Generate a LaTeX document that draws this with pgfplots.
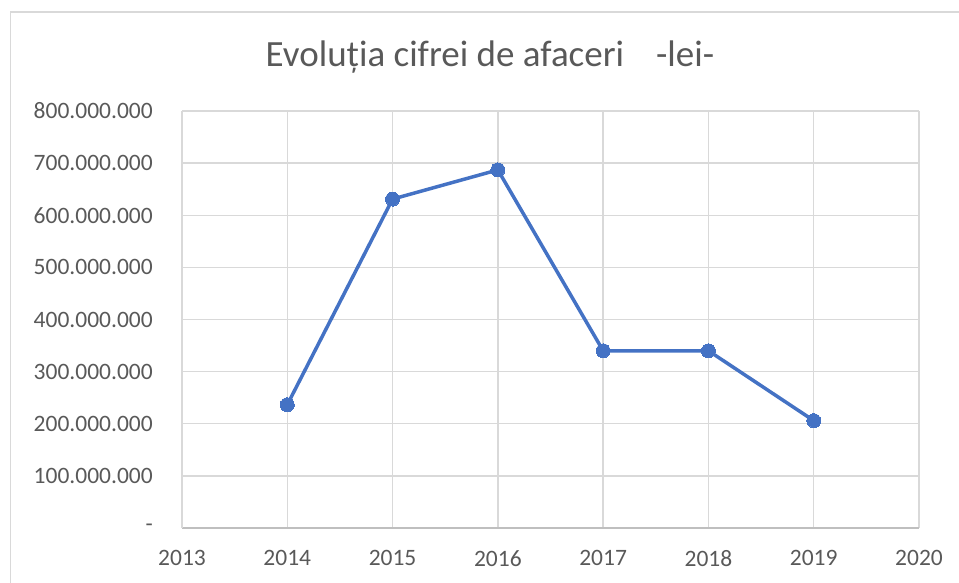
\documentclass[border=0pt]{standalone}
\usepackage{pgfplots}
\pgfplotsset{compat=1.18}
\usepackage{fontspec}
\setmainfont{Carlito}
\definecolor{txt}{HTML}{595959}
\definecolor{gridc}{HTML}{D9D9D9}
\definecolor{axc}{HTML}{BFBFBF}
\definecolor{ser}{HTML}{4472C4}
\begin{document}
\begin{tikzpicture}
\useasboundingbox (0pt,0pt) rectangle (959pt,583pt);
\draw[color=gridc, line width=1.3pt] (10.5pt,0pt) -- (10.5pt,571pt) -- (959pt,571pt);
\node[font=\fontsize{37}{44}\selectfont, text=txt, anchor=base] at (490pt,516pt) {Evoluția cifrei de afaceri\hspace{32pt}-lei-};
\begin{axis}[
  at={(182pt,55pt)}, anchor=south west, scale only axis,
  width=737pt, height=417pt,
  xmin=2013, xmax=2020, ymin=0, ymax=800,
  xtick={2013,2014,2015,2016,2017,2018,2019,2020},
  xticklabels={2013,2014,2015,2016,2017,2018,2019,2020},
  ytick={0,100,200,300,400,500,600,700,800},
  yticklabels={{-\hspace{11pt}},100.000.000,200.000.000,300.000.000,400.000.000,500.000.000,600.000.000,700.000.000,800.000.000},
  grid=major, major grid style={draw=gridc, line width=1.3pt},
  separate axis lines,
  axis x line*=bottom, axis y line*=left,
  x axis line style={-, draw=axc, line width=1.3pt},
  y axis line style={-, draw=gridc, line width=1.3pt},
  major tick length=0pt,
  tick label style={font=\fontsize{23.5}{28}\selectfont, text=txt, inner sep=0pt},
  yticklabel style={anchor=east, xshift=-29pt},
  xticklabel style={anchor=north, yshift=-22pt},
  clip=false,
]
% values in millions of lei
\addplot[color=ser, line width=3.5pt, mark=*, mark size=7pt, mark options={fill=ser, draw=ser, line width=0pt}]
  coordinates {
    (2014,236.5)
    (2015,631)
    (2016,687)
    (2017,340)
    (2018,340)
    (2019,206)
  };
\end{axis}
\end{tikzpicture}
\end{document}
